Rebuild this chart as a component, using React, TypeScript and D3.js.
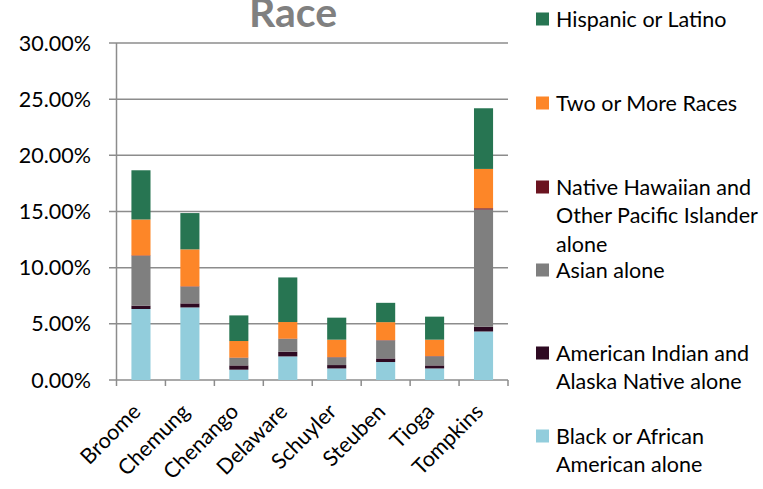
import React from "react";
import * as d3 from "d3";

const categories = ["Broome", "Chemung", "Chenango", "Delaware", "Schuyler", "Steuben", "Tioga", "Tompkins"];
const seriesNames = [
  "Black or African American alone",
  "American Indian and Alaska Native alone",
  "Asian alone",
  "Native Hawaiian and Other Pacific Islander alone",
  "Two or More Races",
  "Hispanic or Latino",
];
const black = [6.32, 6.46, 0.92, 2.1, 1.03, 1.6, 1.03, 4.32];
const amerIndian = [0.3, 0.36, 0.38, 0.42, 0.3, 0.32, 0.27, 0.42];
const asian = [4.42, 1.48, 0.66, 1.13, 0.68, 1.6, 0.8, 10.43];
const nhpi = [0.05, 0.04, 0.03, 0.03, 0.03, 0.03, 0.03, 0.12];
const twoOrMore = [3.2, 3.29, 1.48, 1.48, 1.55, 1.6, 1.46, 3.5];
const hispanic = [4.38, 3.23, 2.28, 3.97, 1.96, 1.72, 2.05, 5.4];
const yTicks = [0, 5, 10, 15, 20, 25, 30];
const colors = ["#92CDDC", "#2E0A22", "#7F7F7F", "#6B1420", "#FD8628", "#277552"];

const legendItems = [
  { name: "Hispanic or Latino", lines: ["Hispanic or Latino"], color: colors[5], y: 19 },
  { name: "Two or More Races", lines: ["Two or More Races"], color: colors[4], y: 103 },
  { name: "NHPI", lines: ["Native Hawaiian and", "Other Pacific Islander", "alone"], color: colors[3], y: 187 },
  { name: "Asian alone", lines: ["Asian alone"], color: colors[2], y: 270 },
  { name: "AIAN", lines: ["American Indian and", "Alaska Native alone"], color: colors[1], y: 353 },
  { name: "Black", lines: ["Black or African", "American alone"], color: colors[0], y: 436 },
];

const FONT = "Lato, 'Open Sans', sans-serif";
const FS = 21.5;

export default function App() {
  const values = [black, amerIndian, asian, nhpi, twoOrMore, hispanic];
  const rows = categories.map((c, i) => {
    const r: any = { cat: c };
    seriesNames.forEach((s, k) => (r[s] = values[k][i]));
    return r;
  });
  const stacked = d3.stack().keys(seriesNames)(rows);
  const x = d3.scaleBand().domain(categories).range([116.5, 508]).padding(0);
  const y = d3.scaleLinear().domain([0, 30]).range([380, 43]);
  const barW = x.bandwidth() * 0.39;
  const gridColor = "#8C8C8C";

  return (
    <svg width={763} height={489} style={{ position: "absolute", left: 0, top: 0, background: "#fff" }}>
      <text x={293} y={27} textAnchor="middle" fontFamily={FONT} fontWeight="bold" fontSize={41} fill="#808080">
        Race
      </text>
      {yTicks.map((t) => (
        <g key={t}>
          <line x1={109} x2={508} y1={y(t)} y2={y(t)} stroke={gridColor} strokeWidth={1.5} />
          <text x={91} y={y(t)} dy="0.35em" textAnchor="end" fontFamily={FONT} fontSize={FS} fill="#000">
            {t.toFixed(2)}%
          </text>
        </g>
      ))}
      <line x1={116.5} x2={116.5} y1={43} y2={380} stroke={gridColor} strokeWidth={1.5} />
      {categories.map((c) => (
        <line key={c} x1={x(c)! + x.bandwidth()} x2={x(c)! + x.bandwidth()} y1={380} y2={386} stroke={gridColor} strokeWidth={1.5} />
      ))}
      <line x1={116.5} x2={116.5} y1={380} y2={386} stroke={gridColor} strokeWidth={1.5} />
      {stacked.map((s, k) => (
        <g key={s.key} fill={colors[k]}>
          {s.map((d, i) => (
            <rect
              key={i}
              x={x(categories[i])! + (x.bandwidth() - barW) / 2}
              y={y(d[1])}
              width={barW}
              height={Math.max(0, y(d[0]) - y(d[1]))}
            />
          ))}
        </g>
      ))}
      {categories.map((c) => {
        const cx = x(c)! + x.bandwidth() / 2;
        return (
          <text
            key={c}
            transform={`translate(${cx + 1},${413}) rotate(-45)`}
            textAnchor="end"
            fontFamily={FONT}
            fontSize={FS}
            fill="#000"
          >
            {c}
          </text>
        );
      })}
      {legendItems.map((it) => (
        <g key={it.name}>
          <rect x={536} y={it.y - 6.5} width={13} height={13} fill={it.color} />
          {it.lines.map((l, j) => (
            <text key={j} x={556} y={it.y + j * 28.5} dy="0.35em" fontFamily={FONT} fontSize={FS} fill="#000">
              {l}
            </text>
          ))}
        </g>
      ))}
    </svg>
  );
}
